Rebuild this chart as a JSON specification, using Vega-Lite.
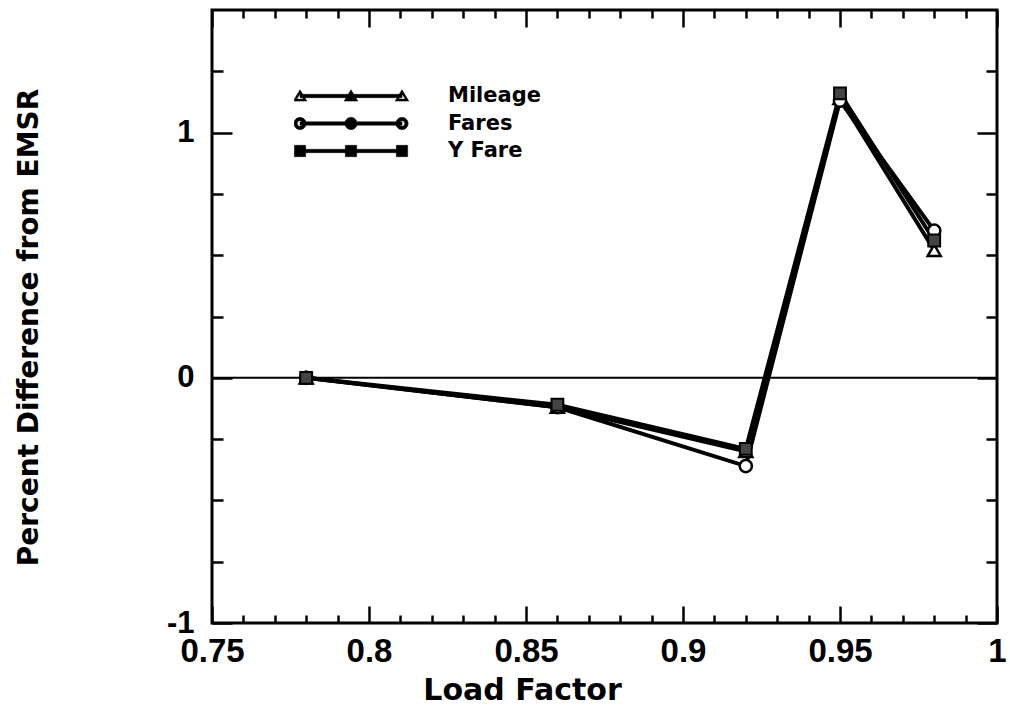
{
  "$schema": "https://vega.github.io/schema/vega-lite/v6.json",
  "width": 785,
  "height": 613,
  "autosize": {"type": "none"},
  "padding": {"left": 212, "top": 10, "right": 13, "bottom": 82},
  "background": "white",
  "data": {"values": [
    {"lf": 0.78, "v": 0, "s": "Mileage"},
    {"lf": 0.86, "v": -0.12, "s": "Mileage"},
    {"lf": 0.92, "v": -0.3, "s": "Mileage"},
    {"lf": 0.95, "v": 1.14, "s": "Mileage"},
    {"lf": 0.98, "v": 0.52, "s": "Mileage"},
    {"lf": 0.78, "v": 0, "s": "Fares"},
    {"lf": 0.86, "v": -0.12, "s": "Fares"},
    {"lf": 0.92, "v": -0.36, "s": "Fares"},
    {"lf": 0.95, "v": 1.13, "s": "Fares"},
    {"lf": 0.98, "v": 0.6, "s": "Fares"},
    {"lf": 0.78, "v": 0, "s": "Y Fare"},
    {"lf": 0.86, "v": -0.11, "s": "Y Fare"},
    {"lf": 0.92, "v": -0.29, "s": "Y Fare"},
    {"lf": 0.95, "v": 1.16, "s": "Y Fare"},
    {"lf": 0.98, "v": 0.56, "s": "Y Fare"}
  ]},
  "resolve": {"axis": {"x": "independent", "y": "independent"}},
  "layer": [
    {
      "data": {"values": [{"z": 0}]},
      "mark": {"type": "rule", "strokeWidth": 2, "color": "black"},
      "encoding": {
        "y": {"field": "z", "type": "quantitative", "axis": null, "scale": {"domain": [-1, 1.5], "nice": false, "zero": false}}
      }
    },
    {
      "mark": {"type": "line", "strokeWidth": 4},
      "encoding": {
        "x": {"field": "lf", "type": "quantitative", "scale": {"domain": [0.75, 1], "nice": false, "zero": false},
          "axis": {"orient": "bottom", "values": [0.75, 0.8, 0.85, 0.9, 0.95, 1], "labelExpr": "'' + datum.value", "tickSize": -17, "labelPadding": 29,
            "labelFont": "Liberation Sans", "labelFontSize": 33, "labelFlush": false, "labelOverlap": false, "labelBound": false,
            "title": "Load Factor", "titleFont": "DejaVu Sans", "titleFontSize": 30, "titleX": 310, "titleY": 76, "titleBaseline": "alphabetic", "titleAlign": "center"}},
        "y": {"field": "v", "type": "quantitative", "scale": {"domain": [-1, 1.5], "nice": false, "zero": false},
          "axis": {"orient": "left", "values": [-1, 0, 1], "labelExpr": "'' + datum.value", "tickSize": -20, "labelPadding": 38,
            "labelFont": "Liberation Sans", "labelFontSize": 31, "labelFlush": false, "labelOverlap": false, "labelBound": false,
            "title": "Percent Difference from EMSR", "titleFont": "DejaVu Sans", "titleFontSize": 28, "titleX": -169, "titleY": 317, "titleAngle": -90, "titleBaseline": "bottom", "titleAlign": "center"}},
        "color": {"field": "s", "type": "nominal", "sort": ["Mileage", "Fares", "Y Fare"],
          "scale": {"domain": ["Mileage", "Fares", "Y Fare"], "range": ["black", "black", "black"]},
          "legend": {
            "orient": "none", "legendX": 82, "legendY": 75, "title": null, "padding": 0,
            "symbolSize": 12840, "clipHeight": 22, "labelOffset": 40, "rowPadding": 5.5,
            "labelFont": "DejaVu Sans", "labelFontWeight": "bold", "labelFontSize": 21, "labelColor": "black",
            "encode": {"symbols": {"update": {
              "shape": {"signal": "datum.value === 'Mileage' ? 'M-0.9,-0.03H0.9V0.03H-0.9Z M-0.9,-0.11L-0.78,0.09L-1.02,0.09Z M-0.9,-0.035L-0.96,0.055L-0.84,0.055Z M0,-0.11L0.12,0.09L-0.12,0.09Z M0.9,-0.11L1.02,0.09L0.78,0.09Z M0.9,-0.035L0.84,0.055L0.96,0.055Z' : datum.value === 'Fares' ? 'M-0.9,-0.03H0.9V0.03H-0.9Z M-0.79,0L-0.8047,0.055L-0.845,0.0953L-0.9,0.11L-0.955,0.0953L-0.9953,0.055L-1.01,0L-0.9953,-0.055L-0.955,-0.0953L-0.9,-0.11L-0.845,-0.0953L-0.8047,-0.055Z M-0.85,0L-0.8567,-0.025L-0.875,-0.0433L-0.9,-0.05L-0.925,-0.0433L-0.9433,-0.025L-0.95,0L-0.9433,0.025L-0.925,0.0433L-0.9,0.05L-0.875,0.0433L-0.8567,0.025Z M0.11,0L0.0953,0.055L0.055,0.0953L0,0.11L-0.055,0.0953L-0.0953,0.055L-0.11,0L-0.0953,-0.055L-0.055,-0.0953L0,-0.11L0.055,-0.0953L0.0953,-0.055Z M1.01,0L0.9953,0.055L0.955,0.0953L0.9,0.11L0.845,0.0953L0.8047,0.055L0.79,0L0.8047,-0.055L0.845,-0.0953L0.9,-0.11L0.955,-0.0953L0.9953,-0.055Z M0.95,0L0.9433,-0.025L0.925,-0.0433L0.9,-0.05L0.875,-0.0433L0.8567,-0.025L0.85,0L0.8567,0.025L0.875,0.0433L0.9,0.05L0.925,0.0433L0.9433,0.025Z' : 'M-0.9,-0.03H0.9V0.03H-0.9Z M-1,-0.1H-0.8V0.1H-1Z M-0.1,-0.1H0.1V0.1H-0.1Z M0.8,-0.1H1V0.1H0.8Z'"},
              "fill": {"value": "black"},
              "stroke": {"value": "black"},
              "strokeWidth": {"value": 0.5},
              "opacity": {"value": 1}
            }}}
          }}
      }
    },
    {
      "transform": [{"filter": "datum.s === 'Mileage'"}],
      "mark": {"type": "point", "shape": "triangle-up", "filled": true, "fill": "white", "stroke": "black", "strokeWidth": 2.5, "size": 170, "opacity": 1},
      "encoding": {
        "x": {"field": "lf", "type": "quantitative", "scale": {"domain": [0.75, 1], "nice": false, "zero": false},
          "axis": {"orient": "bottom", "values": [0.76, 0.77, 0.78, 0.79, 0.81, 0.82, 0.83, 0.84, 0.86, 0.87, 0.88, 0.89, 0.91, 0.92, 0.93, 0.94, 0.96, 0.97, 0.98, 0.99], "labels": false, "tickSize": -8, "title": null}},
        "y": {"field": "v", "type": "quantitative", "scale": {"domain": [-1, 1.5], "nice": false, "zero": false},
          "axis": {"orient": "left", "values": [-0.75, -0.5, -0.25, 0.25, 0.5, 0.75, 1.25], "labels": false, "tickSize": -11, "title": null}}
      }
    },
    {
      "transform": [{"filter": "datum.s === 'Fares'"}],
      "mark": {"type": "point", "shape": "circle", "filled": true, "fill": "white", "stroke": "black", "strokeWidth": 2.5, "size": 150, "opacity": 1},
      "encoding": {
        "x": {"field": "lf", "type": "quantitative", "scale": {"domain": [0.75, 1], "nice": false, "zero": false},
          "axis": {"orient": "top", "values": [0.75, 0.8, 0.85, 0.9, 0.95, 1], "labels": false, "tickSize": -17, "title": null}},
        "y": {"field": "v", "type": "quantitative", "scale": {"domain": [-1, 1.5], "nice": false, "zero": false},
          "axis": {"orient": "right", "values": [-1, 0, 1], "labels": false, "tickSize": -20, "title": null}}
      }
    },
    {
      "transform": [{"filter": "datum.s === 'Y Fare'"}],
      "mark": {"type": "point", "shape": "square", "filled": true, "fill": "#444", "stroke": "black", "strokeWidth": 2, "size": 140, "opacity": 1},
      "encoding": {
        "x": {"field": "lf", "type": "quantitative", "scale": {"domain": [0.75, 1], "nice": false, "zero": false},
          "axis": {"orient": "top", "values": [0.76, 0.77, 0.78, 0.79, 0.81, 0.82, 0.83, 0.84, 0.86, 0.87, 0.88, 0.89, 0.91, 0.92, 0.93, 0.94, 0.96, 0.97, 0.98, 0.99], "labels": false, "tickSize": -8, "title": null}},
        "y": {"field": "v", "type": "quantitative", "scale": {"domain": [-1, 1.5], "nice": false, "zero": false},
          "axis": {"orient": "right", "values": [-0.75, -0.5, -0.25, 0.25, 0.5, 0.75, 1.25], "labels": false, "tickSize": -11, "title": null}}
      }
    }
  ],
  "config": {
    "view": {"stroke": "black", "strokeWidth": 3},
    "axis": {
      "domain": false, "grid": false, "ticks": true, "tickColor": "black", "tickWidth": 2.5,
      "labelColor": "black", "labelFont": "Liberation Sans", "labelFontWeight": "bold", "labelFontSize": 26,
      "titleColor": "black", "titleFont": "DejaVu Sans", "titleFontWeight": "bold"
    }
  }
}
